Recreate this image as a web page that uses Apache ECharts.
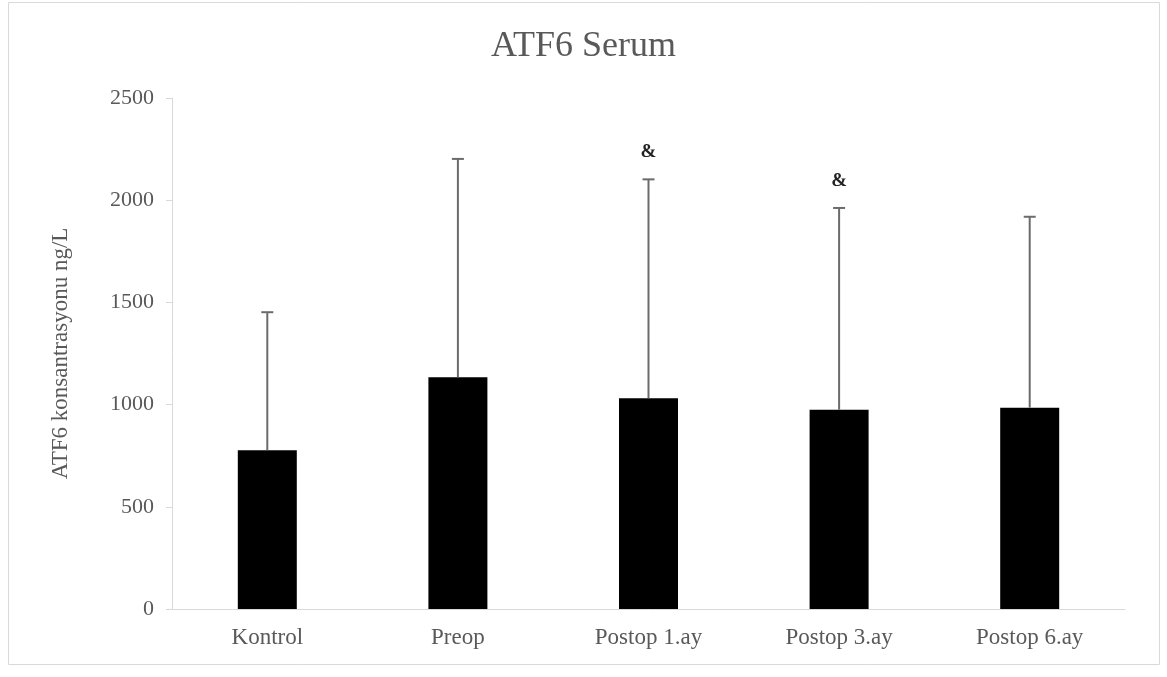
<!DOCTYPE html>
<html>
<head>
<meta charset="utf-8">
<script src="https://cdn.jsdelivr.net/npm/echarts@6/dist/echarts.min.js"></script>
<style>
html,body{margin:0;padding:0;background:#fff;}
#chart{width:1167px;height:677px;}
</style>
</head>
<body>
<div id="chart"></div>
<script>
const categories = ['Kontrol', 'Preop', 'Postop 1.ay', 'Postop 3.ay', 'Postop 6.ay'];
const means = [777, 1134, 1031, 975, 985];
const upperErr = [1452, 2202, 2102, 1962, 1919];
const marks = ['', '', '&', '&', ''];
const yTicks = [0, 500, 1000, 1500, 2000, 2500];

const chart = echarts.init(document.getElementById('chart'));
const font = '"Liberation Serif", "Times New Roman", serif';
chart.setOption({
  animation: false,
  backgroundColor: '#fff',
  graphic: [{
    type: 'rect', shape: {x: 8.5, y: 2.5, width: 1151, height: 662},
    style: {fill: 'none', stroke: '#d9d9d9', lineWidth: 1}, silent: true
  }],
  title: {
    text: 'ATF6 Serum', left: 'center', top: 24,
    textStyle: {fontFamily: font, fontSize: 36, fontWeight: 'normal', color: '#595959'}
  },
  grid: {left: 172, right: 42, top: 98, bottom: 68},
  xAxis: {
    type: 'category', data: categories,
    axisLine: {lineStyle: {color: '#d9d9d9', width: 1}},
    axisTick: {show: false},
    axisLabel: {fontFamily: font, fontSize: 23, color: '#595959', margin: 17}
  },
  yAxis: {
    type: 'value', min: yTicks[0], max: yTicks[yTicks.length - 1], interval: 500,
    name: 'ATF6 konsantrasyonu ng/L', nameLocation: 'middle', nameGap: 100,
    nameTextStyle: {fontFamily: font, fontSize: 23, color: '#595959'},
    axisLine: {show: true, lineStyle: {color: '#d9d9d9', width: 1}},
    axisTick: {show: true, length: 6, lineStyle: {color: '#d9d9d9'}},
    splitLine: {show: false},
    axisLabel: {fontFamily: font, fontSize: 22, color: '#595959', margin: 18,
      formatter: function (v) { return String(v); }}
  },
  series: [
    {
      type: 'bar', data: means, barWidth: 59,
      itemStyle: {color: '#000'}, z: 2
    },
    {
      type: 'custom', z: 3,
      data: categories.map((c, i) => [i, means[i], upperErr[i]]),
      renderItem: function (params, api) {
        const x = api.coord([api.value(0), 0])[0];
        const yLow = api.coord([api.value(0), api.value(1)])[1];
        const yHigh = api.coord([api.value(0), api.value(2)])[1];
        const style = {stroke: '#6b6b6b', lineWidth: 2};
        const children = [
          {type: 'line', shape: {x1: x, y1: yLow, x2: x, y2: yHigh}, style: style},
          {type: 'line', shape: {x1: x - 6, y1: yHigh, x2: x + 6, y2: yHigh}, style: style}
        ];
        const m = marks[params.dataIndex];
        if (m) {
          children.push({
            type: 'text',
            style: {text: m, x: x, y: yHigh - 27, align: 'center', verticalAlign: 'middle',
              font: 'bold 19px ' + font, fill: '#222'}
          });
        }
        return {type: 'group', children: children};
      }
    }
  ]
});
</script>
</body>
</html>
